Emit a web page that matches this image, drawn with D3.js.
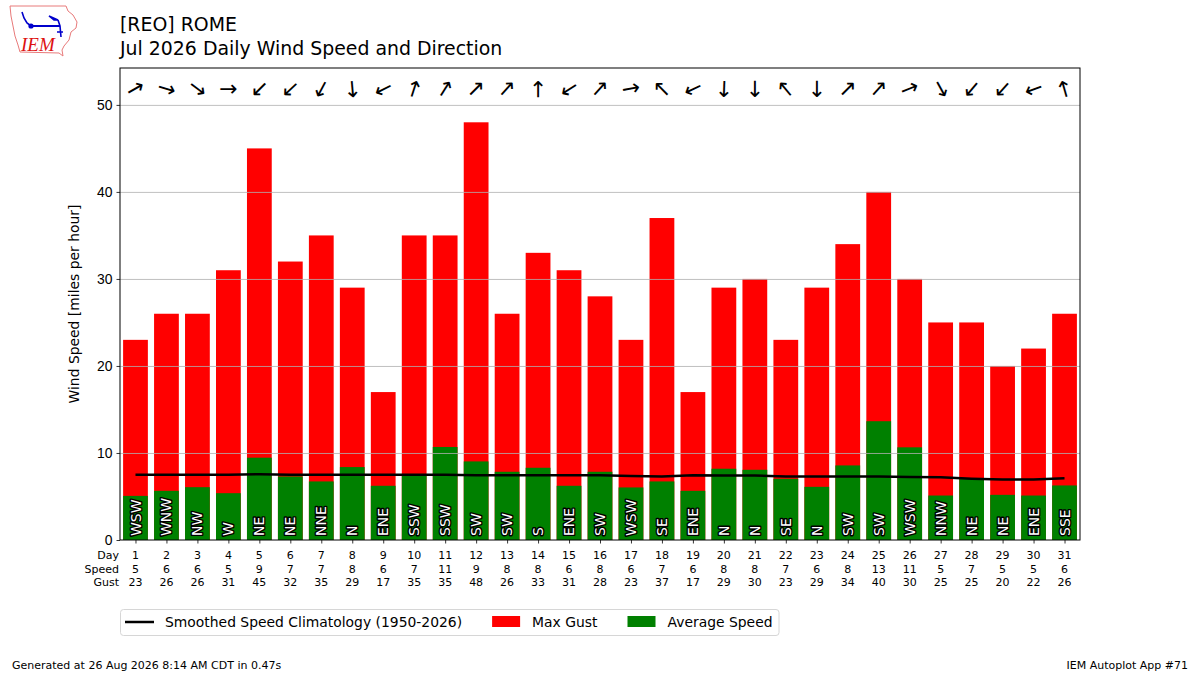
<!DOCTYPE html>
<html>
<head>
<meta charset="utf-8">
<script src="https://cdn.jsdelivr.net/npm/d3@7/dist/d3.min.js"></script>
<style>
  body { margin: 0; background: #fff; }
  svg { font-family: "DejaVu Sans", sans-serif; }
  .grid line { stroke: #b0b0b0; stroke-width: 0.8; }
  .grid path { display: none; }
  .axis path { display: none; }
  .axis line { stroke: #000; stroke-width: 0.8; }
  .axis text { font-size: 13.9px; fill: #000; }
</style>
</head>
<body>
<svg id="chart" width="1200" height="675"></svg>
<script>
'use strict';

// --- data ---
const DAYS = d3.range(1, 32)
const AVG_SPEED = [5.07, 5.65, 6.07, 5.38, 9.46, 7.3, 6.73, 8.38, 6.23, 7.4, 10.69, 9.03, 7.84, 8.3, 6.23,
  7.84, 6.04, 6.73, 5.65, 8.19, 8.07, 7.03, 6.11, 8.57, 13.65, 10.65, 5.11, 7.0, 5.19, 5.11, 6.27]
// speed row of the table as printed under the axis
const SPEED_ROW = [5, 6, 6, 5, 9, 7, 7, 8, 6, 7, 11, 9, 8, 8, 6,
  8, 6, 7, 6, 8, 8, 7, 6, 8, 13, 11, 5, 7, 5, 5, 6]
const MAX_GUST = [23, 26, 26, 31, 45, 32, 35, 29, 17, 35, 35, 48, 26, 33, 31,
  28, 23, 37, 17, 29, 30, 23, 29, 34, 40, 30, 25, 25, 20, 22, 26]
const DIR_DEG = [240, 287, 307, 270, 45, 47, 28, 355, 63, 198, 212, 225, 222, 180, 57,
  222, 260, 135, 65, 2, 0, 140, 0, 225, 222, 248, 331, 40, 42, 70, 164]
const DIR_TEXT = ['WSW', 'WNW', 'NW', 'W', 'NE', 'NE', 'NNE', 'N', 'ENE', 'SSW', 'SSW', 'SW', 'SW', 'S', 'ENE',
  'SW', 'WSW', 'SE', 'ENE', 'N', 'N', 'SE', 'N', 'SW', 'SW', 'WSW', 'NNW', 'NE', 'NE', 'ENE', 'SSE']
const CLIMO = [7.5, 7.5, 7.5, 7.5, 7.55, 7.5, 7.5, 7.5, 7.5, 7.5, 7.5, 7.45, 7.45, 7.45, 7.45,
  7.45, 7.35, 7.3, 7.45, 7.4, 7.4, 7.3, 7.3, 7.3, 7.3, 7.25, 7.2, 7.05, 6.95, 6.95, 7.1]
const Y_TICKS = [0, 10, 20, 30, 40, 50]
const ROW_NAMES = ['Day', 'Speed', 'Gust']

const TITLE = ['[REO] ROME', 'Jul 2026 Daily Wind Speed and Direction']
const LEGEND = ['Smoothed Speed Climatology (1950-2026)', 'Max Gust', 'Average Speed']
const FOOTER_LEFT = 'Generated at 26 Aug 2026 8:14 AM CDT in 0.47s'
const FOOTER_RIGHT = 'IEM Autoplot App #71'

const RED = '#ff0000'
const GREEN = '#008000'

const svg = d3.select('#chart')

const m = { top: 68, right: 120, bottom: 135, left: 120 } // margins
const w = 1200 - m.left - m.right
const h = 675 - m.top - m.bottom

const yMax = d3.max(MAX_GUST) * 1.13
const x = d3.scaleLinear().domain([0.5, 31.5]).range([0, w])
const y = d3.scaleLinear().domain([0, yMax]).range([h, 0])
const bw = x(0.8) - x(0)

const g = svg.append('g').attr('transform', 'translate(' + m.left + ',' + m.top + ')')

// gust bars, then average speed bars over them
g.selectAll('rect.gust').data(DAYS).enter().append('rect')
  .attr('class', 'gust')
  .attr('x', d => x(d) - bw / 2).attr('width', bw)
  .attr('y', (d, i) => y(MAX_GUST[i])).attr('height', (d, i) => y(0) - y(MAX_GUST[i]))
  .attr('fill', RED)

g.selectAll('rect.avg').data(DAYS).enter().append('rect')
  .attr('class', 'avg')
  .attr('x', d => x(d) - bw / 2).attr('width', bw)
  .attr('y', (d, i) => y(AVG_SPEED[i])).attr('height', (d, i) => y(0) - y(AVG_SPEED[i]))
  .attr('fill', GREEN)

// horizontal grid on top of the bars
g.append('g').attr('class', 'grid')
  .call(d3.axisLeft(y).tickValues(Y_TICKS.slice(1)).tickSize(-w).tickFormat(''))

// direction labels inside the bars
g.selectAll('text.dir').data(DAYS).enter().append('text')
  .attr('class', 'dir')
  .attr('transform', d => 'translate(' + x(d) + ',' + (y(0) - 4) + ') rotate(-90)')
  .attr('dy', '0.36em')
  .attr('font-size', '14px')
  .attr('fill', '#fff').attr('stroke', '#000').attr('stroke-width', 2.8)
  .attr('stroke-linejoin', 'round').attr('paint-order', 'stroke')
  .text((d, i) => DIR_TEXT[i])

// climatology line
const line = d3.line().x((d, i) => x(DAYS[i])).y(d => y(d))
g.append('path').datum(CLIMO)
  .attr('d', line).attr('fill', 'none').attr('stroke', '#000').attr('stroke-width', 2.5)

// arrows showing where the wind blows to
g.selectAll('text.arrow').data(DAYS).enter().append('text')
  .attr('class', 'arrow')
  .attr('transform', (d, i) => 'translate(' + x(d) + ',' + (y(yMax) + 21) + ') rotate(' + (DIR_DEG[i] + 90) + ')')
  .attr('text-anchor', 'middle').attr('dy', '0.3em')
  .attr('font-size', '22px')
  .text('\u2192')

// axes and frame
g.append('g').attr('class', 'axis')
  .call(d3.axisLeft(y).tickValues(Y_TICKS).tickSize(3.5).tickPadding(4))
g.append('g').attr('class', 'axis')
  .attr('transform', 'translate(0,' + h + ')')
  .call(d3.axisBottom(x).tickValues(DAYS).tickSize(3.5).tickFormat(''))
g.append('rect').attr('width', w).attr('height', h)
  .attr('fill', 'none').attr('stroke', '#000').attr('stroke-width', 1)

g.append('text')
  .attr('transform', 'translate(-41,' + (h / 2) + ') rotate(-90)')
  .attr('text-anchor', 'middle').attr('font-size', '13.9px')
  .text('Wind Speed [miles per hour]')

// day / speed / gust table under the axis
const rows = [DAYS, SPEED_ROW, MAX_GUST]
const rowY = [h + 19, h + 33, h + 46]
rows.forEach((vals, r) => {
  g.append('text').attr('x', -1).attr('y', rowY[r])
    .attr('text-anchor', 'end').attr('font-size', '11px').text(ROW_NAMES[r])
  g.selectAll('text.row' + r).data(vals).enter().append('text')
    .attr('class', 'row' + r)
    .attr('x', (d, i) => x(DAYS[i])).attr('y', rowY[r])
    .attr('text-anchor', 'middle').attr('font-size', '11px')
    .text(d => d)
})

// title
svg.selectAll('text.title').data(TITLE).enter().append('text')
  .attr('class', 'title')
  .attr('x', 120).attr('y', (d, i) => 31 + i * 24)
  .attr('font-size', '18.9px')
  .text(d => d)

// legend
const lg = svg.append('g').attr('transform', 'translate(120,609)')
const box = lg.append('rect').attr('x', 0.5).attr('y', 0.5).attr('height', 26).attr('rx', 3)
  .attr('fill', '#fff').attr('stroke', '#d6d6d6')
let cx = 5
lg.append('line').attr('x1', cx).attr('x2', cx + 29).attr('y1', 13).attr('y2', 13)
  .attr('stroke', '#000').attr('stroke-width', 2.5)
cx += 40
LEGEND.forEach((label, i) => {
  if (i > 0) {
    lg.append('rect').attr('x', cx).attr('y', 7).attr('width', 28).attr('height', 11)
      .attr('fill', i == 1 ? RED : GREEN)
    cx += 40
  }
  const t = lg.append('text').attr('x', cx).attr('y', 18).attr('font-size', '13.9px').text(label)
  cx += t.node().getComputedTextLength() + 30
})
box.attr('width', cx - 30 + 6)

// footer
svg.append('text').attr('x', 12).attr('y', 669).attr('font-size', '11px').text(FOOTER_LEFT)
svg.append('text').attr('x', 1188).attr('y', 669).attr('font-size', '11px')
  .attr('text-anchor', 'end').text(FOOTER_RIGHT)

// IEM logo
const logo = svg.append('g')
logo.append('path')
  .attr('d', 'M10,6 L66,6 L68,11 L73,15 L77,22 L76,28 L71,32 L69,40 L64,46 L62,50 L63,56 L59,53 L20,52 L18,45 L15,36 L13,26 L11,16 Z')
  .attr('fill', 'none').attr('stroke', '#e87a7a').attr('stroke-width', 1)
logo.append('line').attr('x1', 31).attr('y1', 26).attr('x2', 60).attr('y2', 26)
  .attr('stroke', '#0000cc').attr('stroke-width', 2)
logo.append('circle').attr('cx', 31).attr('cy', 26).attr('r', 2.6).attr('fill', '#0000cc')
logo.append('path').attr('d', 'M49,16 L58,20 L54,20 Z')
  .attr('fill', '#0000cc').attr('stroke', '#0000cc').attr('stroke-width', 1.5)
logo.append('path').attr('d', 'M22,12 L24,18 L27,23 L31,26 M58,20 L60,26 L61,37 M57,32 L63,32')
  .attr('fill', 'none').attr('stroke', '#0000cc').attr('stroke-width', 1.6)
logo.append('text').attr('x', 21).attr('y', 51)
  .attr('font-family', '"Liberation Serif", serif').attr('font-style', 'italic')
  .attr('font-size', '19px').attr('fill', '#dd1111').text('IEM')
</script>
</body>
</html>
